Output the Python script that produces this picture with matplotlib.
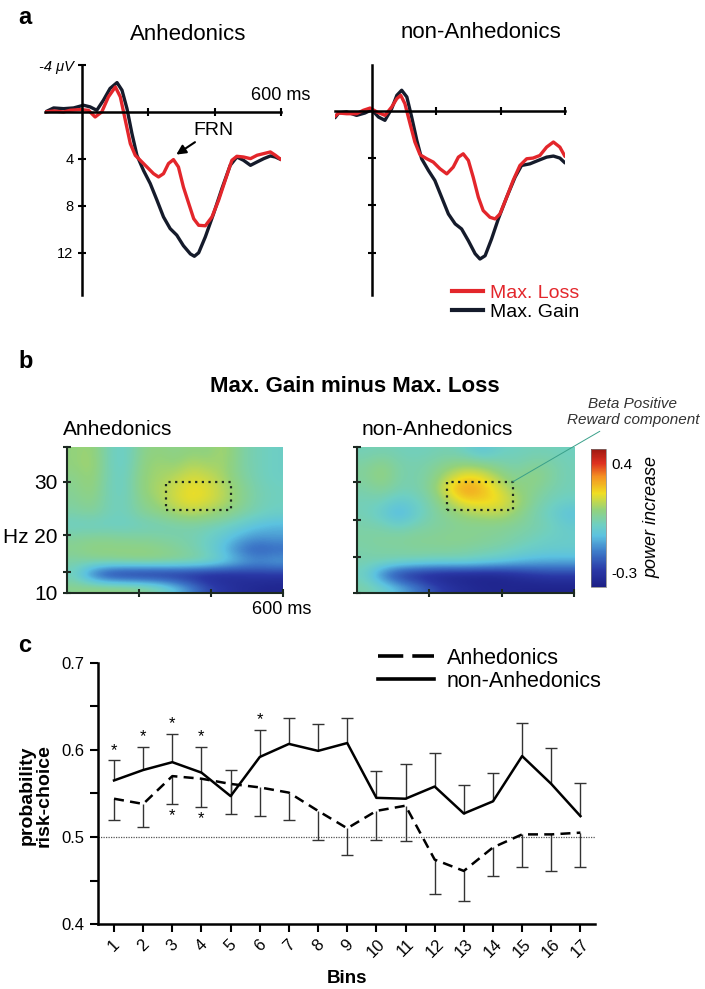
import matplotlib.pyplot as plt
import numpy as np
from matplotlib.colors import LinearSegmentedColormap
from matplotlib.lines import Line2D
from matplotlib.patches import Rectangle

plt.rcParams['font.family'] = ['Liberation Sans', 'DejaVu Sans']

# ---------------- panel a: ERP waveforms (ms, microvolt, positive down) -------------
anh_gain_t = [-110, -85, -55, -25, 5, 25, 45, 65, 85, 106, 121, 136, 151, 166, 186, 206,
              226, 246, 266, 286, 306, 327, 339, 352, 372, 397, 422, 447, 467, 487, 508,
              528, 548, 568, 583, 600]
anh_gain_v = [0.0, -0.34, -0.28, -0.34, -0.57, -0.43, -0.14, -1.0, -2.0, -2.5, -1.85, -0.28,
              1.85, 3.7, 5.0, 6.1, 7.5, 8.95, 9.94, 10.5, 11.4, 12.1, 12.3, 12.0, 10.65, 8.66,
              6.53, 4.55, 3.84, 4.12, 4.55, 4.26, 3.98, 3.75, 3.84, 4.06]
anh_loss_t = [-110, -85, -55, -35, -5, 20, 40, 60, 80, 101, 116, 131, 146, 161, 176, 196,
              216, 231, 246, 261, 276, 291, 306, 322, 337, 352, 372, 392, 412, 432, 452,
              467, 487, 508, 528, 548, 568, 583, 600]
anh_loss_v = [0.0, -0.08, 0.0, -0.14, -0.2, -0.14, 0.43, 0.0, -1.28, -2.13, -1.28, 0.71,
              2.7, 3.7, 4.12, 4.69, 5.26, 5.54, 5.26, 4.4, 4.06, 4.69, 6.4, 7.8, 9.1, 9.66,
              9.7, 8.95, 7.53, 5.82, 4.12, 3.78, 3.84, 3.98, 3.69, 3.55, 3.41, 3.69, 4.06]
non_gain_t = [-114, -103, -78, -47, -21, 0, 21, 41, 62, 78, 93, 109, 124, 140, 155, 176,
              196, 217, 238, 259, 279, 300, 321, 336, 352, 372, 393, 419, 445, 465, 491,
              517, 543, 564, 584, 600]
non_gain_v = [0.57, 0.17, 0.08, 0.37, 0.17, -0.11, 0.51, 0.79, -0.2, -1.33, -1.76, -1.19,
              0.51, 2.49, 4.05, 5.04, 5.89, 7.31, 8.73, 9.57, 10.0, 11.0, 12.1, 12.55, 12.27,
              10.85, 9.15, 7.31, 5.61, 4.62, 4.48, 4.19, 3.91, 3.82, 3.99, 4.4]
non_loss_t = [-114, -103, -78, -47, -26, -5, 16, 41, 62, 78, 90, 103, 119, 134, 150, 171,
              191, 212, 233, 253, 269, 284, 300, 315, 331, 346, 367, 383, 398, 419, 439,
              460, 481, 501, 522, 543, 564, 584, 600]
non_loss_v = [0.45, 0.17, 0.23, 0.23, -0.06, -0.25, 0.08, 0.37, -0.34, -1.05, -1.33, -0.62,
              1.08, 2.63, 3.71, 4.05, 4.33, 4.9, 5.33, 4.76, 3.91, 3.63, 4.19, 5.61, 7.31,
              8.44, 9.01, 9.15, 8.73, 7.31, 5.89, 4.62, 4.05, 3.99, 3.77, 3.06, 2.63, 3.06,
              3.85]
frn_point = (281, 3.7)

# ---------------- panel b: time-frequency power (rows 36 Hz -> 10 Hz, cols 0 -> 600 ms)
tf_anh = [
    [0.10, 0.12, 0.02, -0.01, 0.08, 0.10, 0.08, 0.10, 0.09, 0.13, 0.05, 0.02, 0.00],
    [0.10, 0.13, 0.02, -0.01, 0.09, 0.12, 0.10, 0.14, 0.12, 0.12, 0.05, 0.02, 0.00],
    [0.08, 0.12, 0.02, 0.00, 0.10, 0.12, 0.14, 0.18, 0.16, 0.12, 0.06, 0.02, 0.00],
    [0.07, 0.11, 0.02, 0.00, 0.10, 0.13, 0.17, 0.21, 0.19, 0.14, 0.08, 0.03, 0.01],
    [0.06, 0.09, 0.02, 0.01, 0.08, 0.12, 0.17, 0.21, 0.18, 0.14, 0.08, 0.03, 0.01],
    [0.04, 0.06, 0.02, 0.01, 0.06, 0.08, 0.12, 0.14, 0.12, 0.09, 0.05, 0.02, 0.00],
    [0.00, 0.00, 0.00, 0.00, 0.01, 0.02, 0.03, 0.04, 0.03, 0.01, -0.02, -0.06, -0.08],
    [0.06, 0.07, 0.07, 0.06, 0.06, 0.05, 0.04, 0.03, 0.00, -0.04, -0.10, -0.13, -0.12],
    [0.08, 0.10, 0.10, 0.10, 0.10, 0.09, 0.07, 0.04, 0.00, -0.08, -0.18, -0.22, -0.20],
    [0.04, 0.05, 0.06, 0.07, 0.08, 0.08, 0.07, 0.06, 0.03, -0.02, -0.08, -0.12, -0.10],
    [0.00, -0.20, -0.32, -0.35, -0.36, -0.36, -0.35, -0.35, -0.35, -0.34, -0.32, -0.30, -0.30],
    [0.08, 0.10, 0.10, 0.10, 0.08, 0.04, -0.05, -0.15, -0.25, -0.30, -0.33, -0.35, -0.36],
]
tf_non = [
    [0.02, 0.03, 0.02, 0.01, 0.02, 0.03, 0.00, -0.05, 0.00, 0.01, 0.02, 0.02, 0.01],
    [0.05, 0.09, 0.04, 0.03, 0.05, 0.08, 0.10, 0.08, 0.05, 0.03, 0.06, 0.05, 0.02],
    [0.06, 0.11, 0.04, 0.03, 0.07, 0.15, 0.22, 0.20, 0.12, 0.06, 0.10, 0.06, 0.02],
    [0.04, 0.07, 0.03, 0.03, 0.08, 0.22, 0.32, 0.26, 0.18, 0.10, 0.08, 0.04, 0.02],
    [0.02, 0.02, -0.03, 0.00, 0.05, 0.14, 0.22, 0.23, 0.21, 0.14, 0.06, 0.02, 0.00],
    [0.02, -0.02, -0.10, -0.02, 0.04, 0.08, 0.12, 0.14, 0.15, 0.10, 0.04, 0.00, -0.06],
    [0.04, 0.03, 0.00, 0.03, 0.05, 0.06, 0.07, 0.07, 0.07, 0.06, 0.04, 0.02, -0.02],
    [0.05, 0.06, 0.06, 0.07, 0.07, 0.08, 0.08, 0.07, 0.06, 0.04, 0.02, 0.00, -0.01],
    [0.04, 0.05, 0.05, 0.06, 0.06, 0.06, 0.05, 0.04, 0.03, 0.01, -0.01, -0.02, -0.02],
    [0.03, 0.03, 0.02, 0.01, 0.00, 0.00, 0.00, -0.02, -0.04, -0.07, -0.09, -0.10, -0.10],
    [0.00, -0.18, -0.30, -0.34, -0.36, -0.37, -0.37, -0.37, -0.36, -0.33, -0.30, -0.28, -0.28],
    [0.04, 0.00, -0.08, -0.16, -0.24, -0.30, -0.33, -0.35, -0.36, -0.36, -0.37, -0.37, -0.37],
]
box_anh = (275, 455, 25, 30)   # ms from, ms to, Hz from, Hz to
box_non = (250, 430, 25, 30)

# ---------------- panel c: risk choice per bin ----------------
bins = list(range(1, 18))
non_mean = [0.565, 0.577, 0.586, 0.574, 0.547, 0.592, 0.607, 0.599, 0.608, 0.545, 0.544,
            0.558, 0.527, 0.541, 0.593, 0.561, 0.524]
non_upper = [0.588, 0.603, 0.618, 0.603, 0.577, 0.623, 0.637, 0.630, 0.637, 0.576, 0.584,
             0.596, 0.560, 0.573, 0.631, 0.602, 0.562]
anh_mean = [0.544, 0.538, 0.570, 0.567, 0.561, 0.557, 0.551, 0.530, 0.510, 0.530, 0.536,
            0.474, 0.461, 0.488, 0.503, 0.503, 0.505]
anh_lower = [0.519, 0.511, 0.538, 0.535, 0.527, 0.524, 0.519, 0.496, 0.479, 0.497, 0.495,
             0.434, 0.427, 0.455, 0.465, 0.461, 0.465]
star_non = [1, 2, 3, 4, 6]
star_anh = [3, 4]

RED = '#e3262b'
DARK = '#151b2b'
W, H = 705, 989


def rect(x0, y0, x1, y1):
    # pixel box -> figure fraction
    return [x0 / W, 1 - y1 / H, (x1 - x0) / W, (y1 - y0) / H]


fig = plt.figure(figsize=(7.05, 9.89), dpi=100)


def erp_axes(box, xmin, ytop, t_gain, v_gain, t_loss, v_loss, labels):
    ax = fig.add_axes(box)
    ax.plot(t_gain, v_gain, color=DARK, lw=2.4, solid_joinstyle='round', solid_capstyle='round')
    ax.plot(t_loss, v_loss, color=RED, lw=2.4, solid_joinstyle='round', solid_capstyle='round')
    ax.set_xlim(xmin, 600)
    ax.set_ylim(15.6, ytop)
    for s in ['top', 'right']:
        ax.spines[s].set_visible(False)
    ax.spines['left'].set_position(('data', 0))
    ax.spines['bottom'].set_position(('data', 0))
    for s in ['left', 'bottom']:
        ax.spines[s].set_linewidth(1.8)
    ax.set_xticks([200, 400, 600])
    ax.set_xticklabels([])
    if labels:
        ax.set_yticks([-4, 4, 8, 12])
        ax.set_yticklabels(['-4 μV', '4', '8', '12'], fontsize=10.5)
        ax.get_yticklabels()[0].set_fontstyle('italic')
    else:
        ax.set_yticks([4, 8, 12])
        ax.set_yticklabels([])
    ax.tick_params(direction='inout', length=6, width=1.5, pad=3)
    ax.patch.set_alpha(0)
    return ax

ax_a1 = erp_axes(rect(45, 65, 281, 295), -111, -3.97, anh_gain_t, anh_gain_v,
                 anh_loss_t, anh_loss_v, True)
ax_a2 = erp_axes(rect(335, 65, 565, 295), -114, -3.9, non_gain_t, non_gain_v,
                 non_loss_t, non_loss_v, False)

ax_a1.annotate('FRN', xy=frn_point, xytext=(335, 1.55), fontsize=14, ha='left', va='center',
               arrowprops=dict(arrowstyle='-|>', color='black', lw=1.5, mutation_scale=14,
                               shrinkA=1, shrinkB=1))

fig.text(188 / W, 1 - 35 / H, 'Anhedonics', fontsize=16, ha='center', va='center')
fig.text(481 / W, 1 - 33 / H, 'non-Anhedonics', fontsize=16, ha='center', va='center')
fig.text(281 / W, 1 - 95 / H, '600 ms', fontsize=13, ha='center', va='center')

handles = [Line2D([], [], color=RED, lw=3), Line2D([], [], color=DARK, lw=3)]
leg = ax_a2.legend(handles, ['Max. Loss', 'Max. Gain'], loc='upper left',
                   bbox_to_anchor=(452 / W, 1 - 284 / H), bbox_transform=fig.transFigure,
                   frameon=False, fontsize=14, handlelength=1.6, handletextpad=0.35,
                   labelspacing=0.1, borderpad=0, borderaxespad=0)
leg.get_texts()[0].set_color(RED)

# ---------------- panel b ----------------
cmap = LinearSegmentedColormap.from_list('tf', [
    (0.00, '#1c1f86'), (0.12, '#2a38a6'), (0.25, '#3d78c8'), (0.37, '#5cc2e0'),
    (0.45, '#6fcfc2'), (0.56, '#93d27c'), (0.68, '#f0de22'), (0.80, '#f49122'),
    (0.90, '#dd3020'), (1.00, '#9e1810')])
vmin, vmax = -0.39, 0.49
f_lo, f_hi = 10, 36.3


def tf_axes(box, data, bx, yt, ylab):
    ax = fig.add_axes(box)
    im = ax.imshow(np.array(data), cmap=cmap, vmin=vmin, vmax=vmax, aspect='auto',
                   interpolation='bicubic', extent=(0, 600, f_lo, f_hi), origin='upper')
    ax.add_patch(Rectangle((bx[0], bx[2]), bx[1] - bx[0], bx[3] - bx[2], fill=False,
                           ls=(0, (1, 2)), lw=1.6, ec='#1d2a22'))
    ax.set_xlim(0, 600)
    ax.set_ylim(f_lo, f_hi)
    for s in ['top', 'right']:
        ax.spines[s].set_visible(False)
    for s in ['left', 'bottom']:
        ax.spines[s].set_linewidth(1.5)
        ax.spines[s].set_color('#1d2a22')
    ax.set_xticks([200, 400, 600])
    ax.set_xticklabels([])
    ax.set_yticks(yt)
    ax.set_yticklabels(ylab, fontsize=15)
    ax.tick_params(direction='inout', length=6, width=1.5, color='#1d2a22', pad=4)
    return ax, im

ax_b1, im = tf_axes(rect(67, 447, 283, 593), tf_anh, box_anh,
                    [10, 13.8, 20.4, 30, 36.3], ['10', '', 'Hz 20', '30', ''])
ax_b2, _ = tf_axes(rect(357, 447, 574, 593), tf_non, box_non,
                   [10, 16.5, 23.2, 30, 36.3], [])

cax = fig.add_axes(rect(591, 449, 606, 587))
cb = fig.colorbar(im, cax=cax, ticks=[-0.3, 0.4])
cb.ax.set_yticklabels(['-0.3', '0.4'], fontsize=11)
cb.outline.set_linewidth(0.5)
cb.outline.set_edgecolor('#777777')
cb.ax.tick_params(length=0, pad=4)

fig.text(355 / W, 1 - 387 / H, 'Max. Gain minus Max. Loss', fontsize=16, fontweight='bold',
         ha='center', va='center')
fig.text(63 / W, 1 - 430 / H, 'Anhedonics', fontsize=15, ha='left', va='center')
fig.text(362 / W, 1 - 430 / H, 'non-Anhedonics', fontsize=15, ha='left', va='center')
fig.text(282 / W, 1 - 609 / H, '600 ms', fontsize=13, ha='center', va='center')
fig.text(652 / W, 1 - 517 / H, 'power increase', fontsize=13, style='italic', rotation=90,
         ha='center', va='center')
ax_b2.annotate('Beta Positive\nReward component', xy=(box_non[1], box_non[3]),
               xytext=(633 / W, 1 - 412 / H), textcoords='figure fraction',
               fontsize=11, style='italic', ha='center', va='center', color='#333333',
               arrowprops=dict(arrowstyle='-', color='#3aa08a', lw=0.7, shrinkA=2, shrinkB=0))

# ---------------- panel c ----------------
ax_c = fig.add_axes(rect(98, 663, 595, 924))
ax_c.axhline(0.5, color='#555555', lw=0.9, ls=(0, (1, 1)))
ax_c.vlines(bins, non_mean, non_upper, color='#333333', lw=1.0)
ax_c.plot(bins, non_upper, ls='none', marker='_', ms=9, mew=1.0, color='#333333')
ax_c.vlines(bins, anh_lower, anh_mean, color='#333333', lw=1.0)
ax_c.plot(bins, anh_lower, ls='none', marker='_', ms=9, mew=1.0, color='#333333')
ax_c.plot(bins, non_mean, color='black', lw=1.8)
ax_c.plot(bins, anh_mean, color='black', lw=1.8, dashes=(4, 2.5))
for b in star_non:
    ax_c.annotate('*', xy=(b, non_upper[b - 1]), xytext=(0, 2), textcoords='offset points',
                  ha='center', va='bottom', fontsize=12)
for b in star_anh:
    ax_c.annotate('*', xy=(b, anh_lower[b - 1]), xytext=(0, -14), textcoords='offset points',
                  ha='center', va='bottom', fontsize=12)
ax_c.set_xlim(0.45, 17.5)
ax_c.set_ylim(0.4, 0.7)
for s in ['top', 'right']:
    ax_c.spines[s].set_visible(False)
for s in ['left', 'bottom']:
    ax_c.spines[s].set_linewidth(1.8)
ax_c.set_yticks([0.4, 0.5, 0.6, 0.7])
ax_c.set_yticklabels(['0.4', '0.5', '0.6', '0.7'], fontsize=12)
ax_c.set_yticks([0.45, 0.55, 0.65], minor=True)
ax_c.set_xticks(bins)
ax_c.set_xticklabels([str(b) for b in bins], fontsize=12, rotation=45, ha='center')
ax_c.tick_params(which='both', direction='out', length=6, width=1.5)
ax_c.tick_params(axis='x', pad=3)
ax_c.set_xlabel('Bins', fontsize=13.5, fontweight='bold')
ax_c.xaxis.set_label_coords(0.5, -0.175)
ax_c.set_ylabel('probability\nrisk-choice', fontsize=14, fontweight='bold', linespacing=0.95)
ax_c.yaxis.set_label_coords(-0.092, 0.494)

h_c = [Line2D([], [], color='black', lw=2.6, dashes=(7, 2.5)),
       Line2D([], [], color='black', lw=2.6)]
ax_c.legend(h_c, ['Anhedonics', 'non-Anhedonics'], loc='upper left',
            bbox_to_anchor=(378 / W, 1 - 648 / H), bbox_transform=fig.transFigure,
            frameon=False, fontsize=15.5, handlelength=2.6, handletextpad=0.6,
            labelspacing=0.08, borderpad=0, borderaxespad=0)

for lbl, y in [('a', 17), ('b', 361), ('c', 646)]:
    fig.text(18 / W, 1 - y / H, lbl, fontsize=17, fontweight='bold', ha='left', va='center')

fig.savefig('out.png', dpi=100)
